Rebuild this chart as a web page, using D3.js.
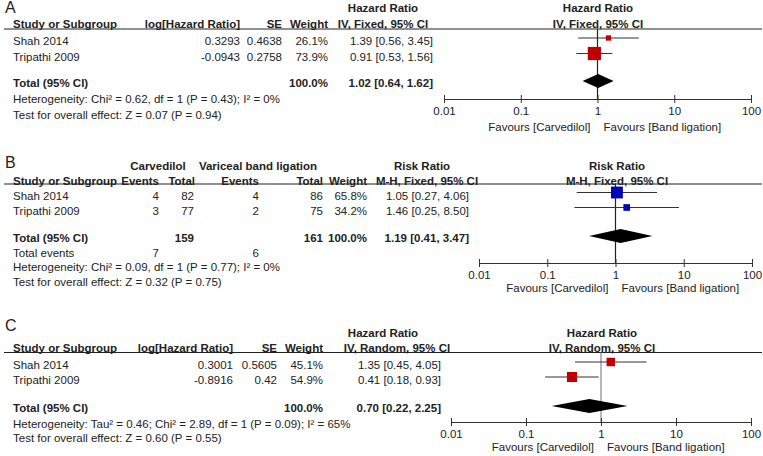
<!DOCTYPE html>
<html><head><meta charset="utf-8">
<script src="https://cdn.jsdelivr.net/npm/d3@7"></script>
<style>
body{margin:0;background:#fff;}
svg text{font-family:"Liberation Sans",Arial,sans-serif;font-size:11.5px;fill:#222;}
</style></head><body>
<svg id="chart" width="763" height="456"></svg>
<script>
// ---------- data ----------
const studies = ["Shah 2014", "Tripathi 2009"];
const tickValues = [0.01, 0.1, 1, 10, 100];
const tickLabels = ["0.01", "0.1", "1", "10", "100"];

// Panel A: Hazard ratio, IV fixed
const logHR_A = ["0.3293", "-0.0943"];
const se_A = ["0.4638", "0.2758"];
const weight_A = [26.1, 73.9];
const est_A = [1.39, 0.91];
const lo_A = [0.56, 0.53];
const hi_A = [3.45, 1.56];
const total_A = [1.02, 0.64, 1.62];
const het_A = "Heterogeneity: Chi² = 0.62, df = 1 (P = 0.43); I² = 0%";
const test_A = "Test for overall effect: Z = 0.07 (P = 0.94)";

// Panel B: Risk ratio, M-H fixed
const carvEvents_B = [4, 3];
const carvTotal_B = [82, 77];
const vblEvents_B = [4, 2];
const vblTotal_B = [86, 75];
const weight_B = [65.8, 34.2];
const est_B = [1.05, 1.46];
const lo_B = [0.27, 0.25];
const hi_B = [4.06, 8.50];
const total_B = [1.19, 0.41, 3.47];
const het_B = "Heterogeneity: Chi² = 0.09, df = 1 (P = 0.77); I² = 0%";
const test_B = "Test for overall effect: Z = 0.32 (P = 0.75)";

// Panel C: Hazard ratio, IV random
const logHR_C = ["0.3001", "-0.8916"];
const se_C = ["0.5605", "0.42"];
const weight_C = [45.1, 54.9];
const est_C = [1.35, 0.41];
const lo_C = [0.45, 0.18];
const hi_C = [4.05, 0.93];
const total_C = [0.70, 0.22, 2.25];
const het_C = "Heterogeneity: Tau² = 0.46; Chi² = 2.89, df = 1 (P = 0.09); I² = 65%";
const test_C = "Test for overall effect: Z = 0.60 (P = 0.55)";

// ---------- helpers ----------
const svg = d3.select("#chart");
const f2 = v => v.toFixed(2);
const ci = (e, l, h) => `${f2(e)} [${f2(l)}, ${f2(h)}]`;
const sizeScale = d3.scaleLinear().domain([0, 100]).range([1, 17.5]);
const BL = 4; // baseline offset from text center

function txt(g, x, cy, s, anchor, bold, size) {
  const t = g.append("text").attr("x", x).attr("y", cy + BL)
    .attr("text-anchor", anchor || "start").text(s);
  if (bold) t.attr("font-weight", "bold");
  if (size) t.style("font-size", size + "px");
  return t;
}

function plot(g, L, est, lo, hi, w, tot, color, vcolor) {
  const x = d3.scaleLog().domain([0.01, 100]).range(L.xr);
  // vertical line of no effect
  g.append("line").attr("x1", x(1)).attr("x2", x(1))
    .attr("y1", L.line).attr("y2", L.axis).attr("stroke", vcolor).attr("stroke-width", 1.2);
  // CIs and squares
  est.forEach((e, i) => {
    const cy = L.rows[i] - 3;
    g.append("line").attr("x1", x(lo[i])).attr("x2", x(hi[i]))
      .attr("y1", cy).attr("y2", cy).attr("stroke", "#333").attr("stroke-width", 1);
    const s = sizeScale(w[i]);
    g.append("rect").attr("x", x(e) - s / 2).attr("y", cy - s / 2)
      .attr("width", s).attr("height", s).attr("fill", color);
  });
  // diamond
  const dy = L.total - 2, hh = 7;
  g.append("path").attr("d",
    `M${x(tot[1])},${dy}L${x(tot[0])},${dy - hh}L${x(tot[2])},${dy}L${x(tot[0])},${dy + hh}Z`)
    .attr("fill", "#000");
  // axis
  const ax = g.append("g").attr("transform", `translate(0,${L.axis})`)
    .call(d3.axisBottom(x).tickValues(tickValues).tickFormat((d, i) => tickLabels[i])
      .tickSizeInner(4).tickSizeOuter(0).tickPadding(4));
  ax.select(".domain").attr("stroke", "#333");
  ax.selectAll(".tick line").attr("y1", -4).attr("stroke", "#333");
  ax.selectAll(".tick text").style("font-size", "11.5px").attr("fill", "#222")
    .style("font-family", '"Liberation Sans",Arial,sans-serif');
  txt(g, x(1) - 7, L.fav, "Favours [Carvedilol]", "end");
  txt(g, x(1) + 6, L.fav, "Favours [Band ligation]", "start");
  return x;
}

function hline(g, y) {
  g.append("line").attr("x1", 4).attr("x2", 762).attr("y1", y).attr("y2", y)
    .attr("stroke", "#222").attr("stroke-width", 1.2);
}

// ---------- Panel A ----------
{
  const g = svg.append("g");
  const L = {h1: 8, h2: 23.5, line: 29, rows: [41, 56.5], total: 83, het: 99, test: 115,
             axis: 99, fav: 127, xr: [444, 751]};
  txt(g, 5, 9, "A", "start", false, 16);
  txt(g, 383, L.h1, "Hazard Ratio", "middle", true);
  txt(g, 598, L.h1, "Hazard Ratio", "middle", true);
  txt(g, 13, L.h2, "Study or Subgroup", "start", true);
  txt(g, 240, L.h2, "log[Hazard Ratio]", "end", true);
  txt(g, 282, L.h2, "SE", "end", true);
  txt(g, 328, L.h2, "Weight", "end", true);
  txt(g, 383, L.h2, "IV, Fixed, 95% CI", "middle", true);
  txt(g, 598, L.h2, "IV, Fixed, 95% CI", "middle", true);
  hline(g, L.line);
  studies.forEach((s, i) => {
    const y = L.rows[i];
    txt(g, 13, y, s);
    txt(g, 240, y, logHR_A[i], "end");
    txt(g, 282, y, se_A[i], "end");
    txt(g, 328, y, weight_A[i].toFixed(1) + "%", "end");
    txt(g, 433, y, ci(est_A[i], lo_A[i], hi_A[i]), "end");
  });
  txt(g, 13, L.total, "Total (95% CI)", "start", true);
  txt(g, 328, L.total, d3.sum(weight_A).toFixed(1) + "%", "end", true);
  txt(g, 433, L.total, ci(...total_A), "end", true);
  txt(g, 13, L.het, het_A);
  txt(g, 13, L.test, test_A);
  plot(g, L, est_A, lo_A, hi_A, weight_A, total_A, "#c00000", "#222");
}

// ---------- Panel B ----------
{
  const g = svg.append("g");
  const L = {h1: 165.5, h2: 180.5, line: 184, rows: [195.5, 210.5], total: 238, events: 252.5,
             het: 267, test: 281.5, axis: 263, fav: 287.5, xr: [479, 752]};
  txt(g, 5, 164, "B", "start", false, 16);
  txt(g, 158, L.h1, "Carvedilol", "middle", true);
  txt(g, 258, L.h1, "Variceal band ligation", "middle", true);
  txt(g, 422, L.h1, "Risk Ratio", "middle", true);
  txt(g, 617, L.h1, "Risk Ratio", "middle", true);
  txt(g, 13, L.h2, "Study or Subgroup", "start", true);
  txt(g, 159, L.h2, "Events", "end", true);
  txt(g, 195, L.h2, "Total", "end", true);
  txt(g, 259, L.h2, "Events", "end", true);
  txt(g, 323, L.h2, "Total", "end", true);
  txt(g, 367, L.h2, "Weight", "end", true);
  txt(g, 427, L.h2, "M-H, Fixed, 95% CI", "middle", true);
  txt(g, 617, L.h2, "M-H, Fixed, 95% CI", "middle", true);
  hline(g, L.line);
  studies.forEach((s, i) => {
    const y = L.rows[i];
    txt(g, 13, y, s);
    txt(g, 159, y, carvEvents_B[i], "end");
    txt(g, 194, y, carvTotal_B[i], "end");
    txt(g, 259, y, vblEvents_B[i], "end");
    txt(g, 323, y, vblTotal_B[i], "end");
    txt(g, 367, y, weight_B[i].toFixed(1) + "%", "end");
    txt(g, 469, y, ci(est_B[i], lo_B[i], hi_B[i]), "end");
  });
  txt(g, 13, L.total, "Total (95% CI)", "start", true);
  txt(g, 194, L.total, d3.sum(carvTotal_B), "end", true);
  txt(g, 323, L.total, d3.sum(vblTotal_B), "end", true);
  txt(g, 367, L.total, d3.sum(weight_B).toFixed(1) + "%", "end", true);
  txt(g, 469, L.total, ci(...total_B), "end", true);
  txt(g, 13, L.events, "Total events");
  txt(g, 159, L.events, d3.sum(carvEvents_B), "end");
  txt(g, 259, L.events, d3.sum(vblEvents_B), "end");
  txt(g, 13, L.het, het_B);
  txt(g, 13, L.test, test_B);
  plot(g, L, est_B, lo_B, hi_B, weight_B, total_B, "#0000b8", "#222");
}

// ---------- Panel C ----------
{
  const g = svg.append("g");
  const L = {h1: 333, h2: 348, line: 352.5, rows: [365, 380], total: 408, het: 423.5, test: 438,
             axis: 422, fav: 447, xr: [451, 751]};
  txt(g, 5, 327, "C", "start", false, 16);
  txt(g, 383, L.h1, "Hazard Ratio", "middle", true);
  txt(g, 602, L.h1, "Hazard Ratio", "middle", true);
  txt(g, 13, L.h2, "Study or Subgroup", "start", true);
  txt(g, 233, L.h2, "log[Hazard Ratio]", "end", true);
  txt(g, 277, L.h2, "SE", "end", true);
  txt(g, 323, L.h2, "Weight", "end", true);
  txt(g, 397, L.h2, "IV, Random, 95% CI", "middle", true);
  txt(g, 602, L.h2, "IV, Random, 95% CI", "middle", true);
  hline(g, L.line);
  studies.forEach((s, i) => {
    const y = L.rows[i];
    txt(g, 13, y, s);
    txt(g, 233, y, logHR_C[i], "end");
    txt(g, 277, y, se_C[i], "end");
    txt(g, 323, y, weight_C[i].toFixed(1) + "%", "end");
    txt(g, 441, y, ci(est_C[i], lo_C[i], hi_C[i]), "end");
  });
  txt(g, 13, L.total, "Total (95% CI)", "start", true);
  txt(g, 323, L.total, d3.sum(weight_C).toFixed(1) + "%", "end", true);
  txt(g, 441, L.total, ci(...total_C), "end", true);
  txt(g, 13, L.het, het_C);
  txt(g, 13, L.test, test_C);
  plot(g, L, est_C, lo_C, hi_C, weight_C, total_C, "#c00000", "#888");
}
</script>
</body></html>
